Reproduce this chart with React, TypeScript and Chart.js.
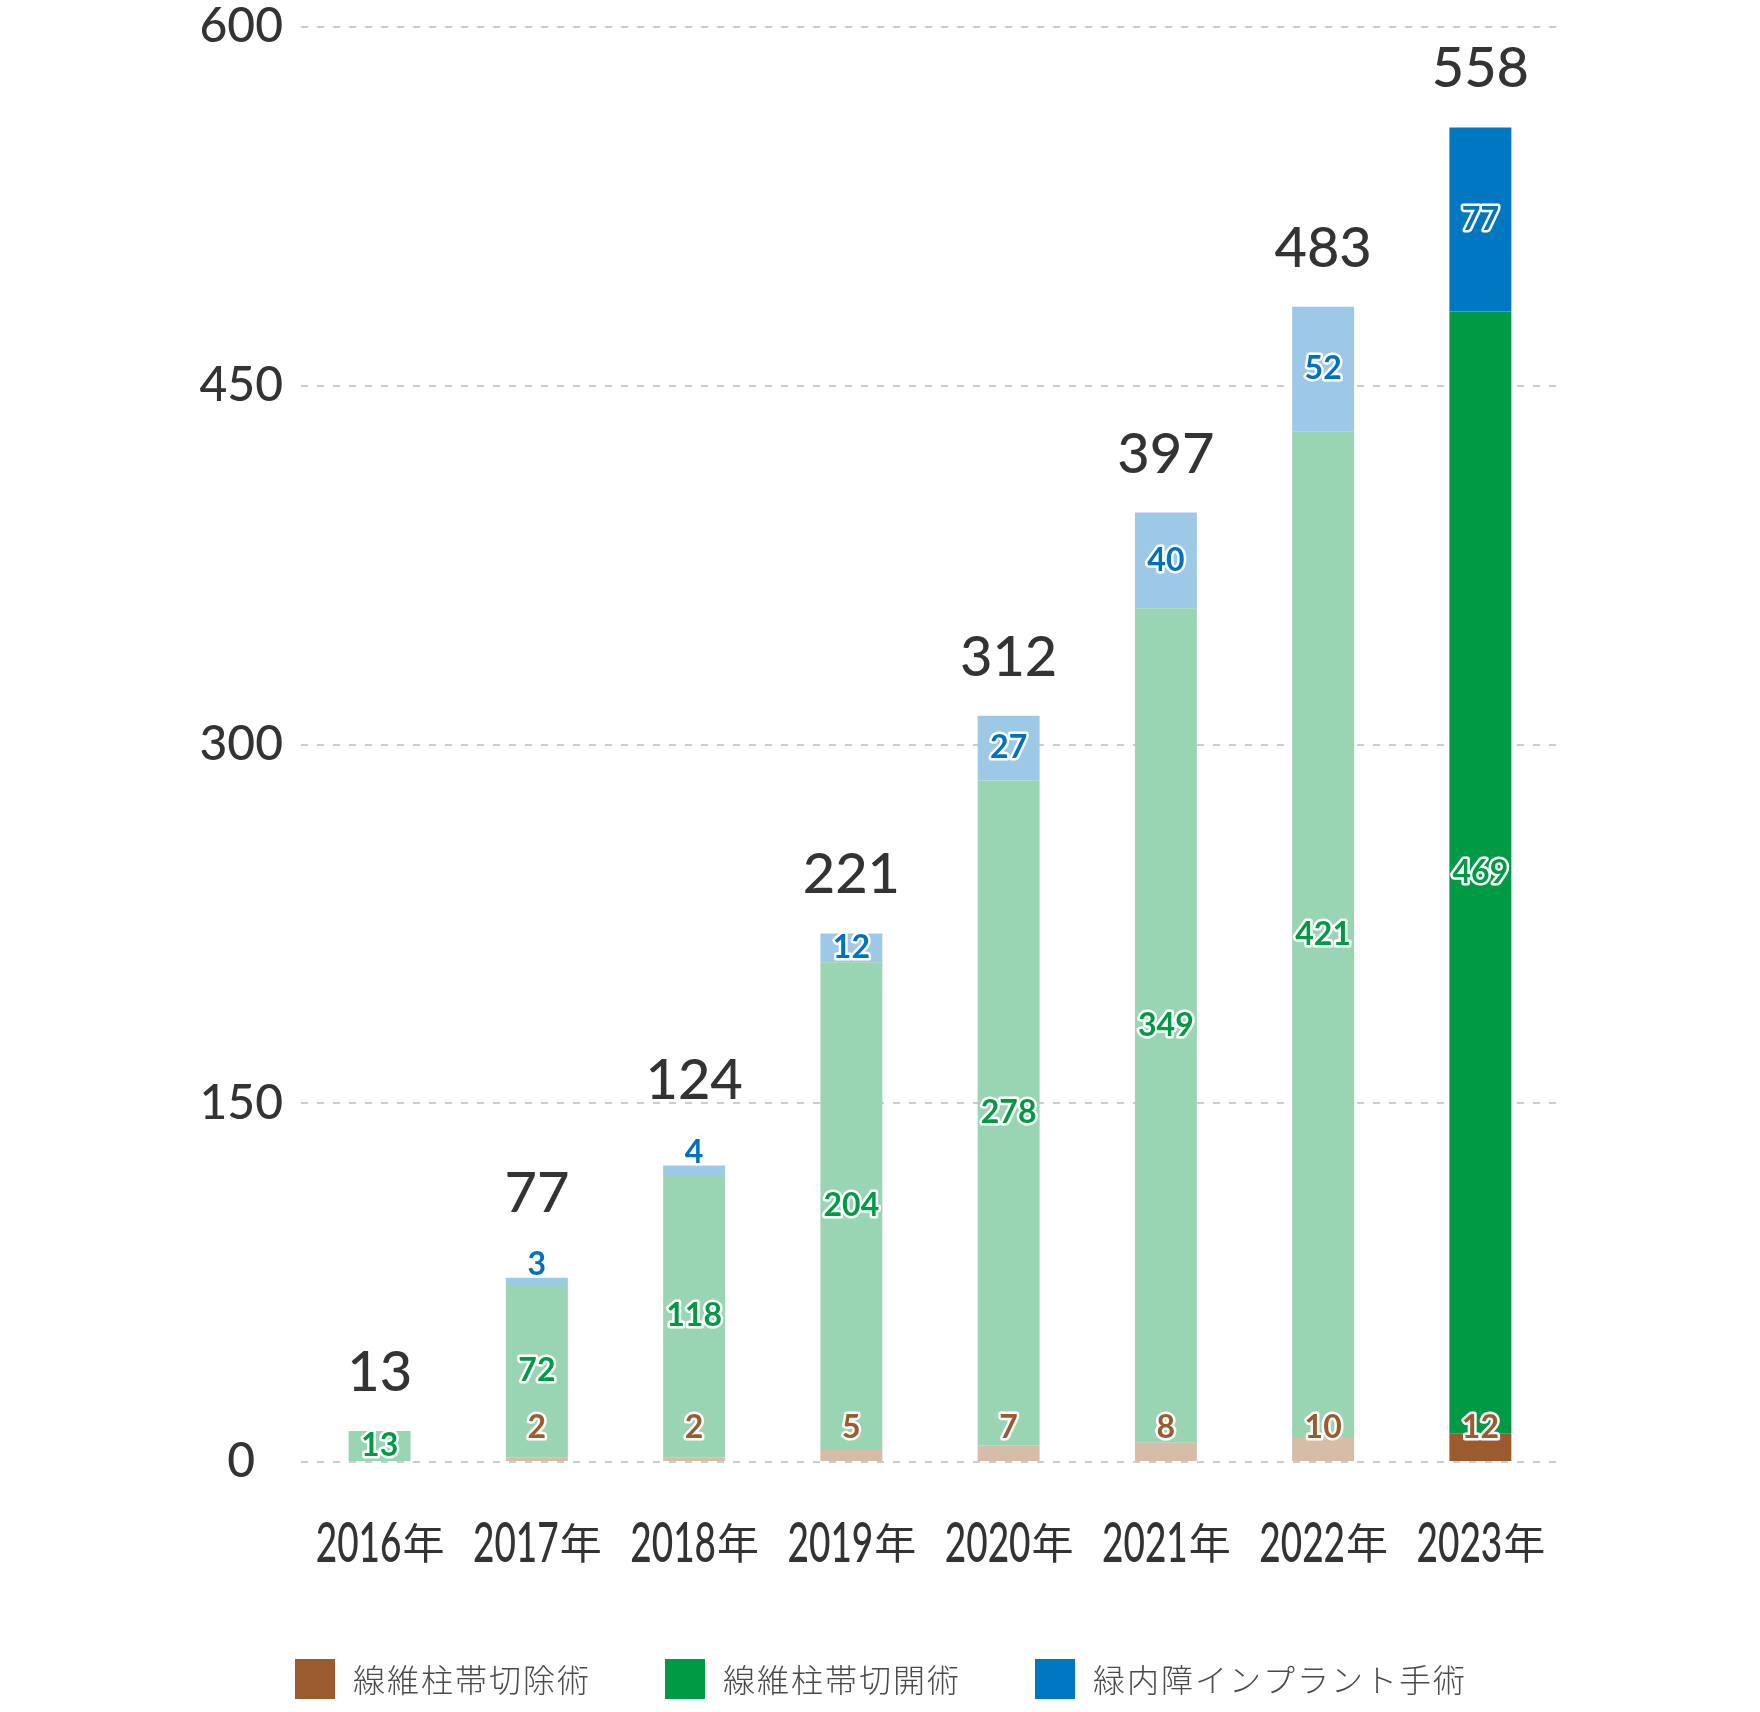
import React, { useEffect, useRef } from "react";
import { Chart, registerables } from "chart.js";

Chart.register(...registerables);

// ---- data ----
const years = ["2016年", "2017年", "2018年", "2019年", "2020年", "2021年", "2022年", "2023年"];
const excisionValues = [0, 2, 2, 5, 7, 8, 10, 12]; // 線維柱帯切除術
const incisionValues = [13, 72, 118, 204, 278, 349, 421, 469]; // 線維柱帯切開術
const implantValues = [0, 3, 4, 12, 27, 40, 52, 77]; // 緑内障インプラント手術
const totals = [13, 77, 124, 221, 312, 397, 483, 558];
const yTickValues = [0, 150, 300, 450, 600];
const seriesNames = ["線維柱帯切除術", "線維柱帯切開術", "緑内障インプラント手術"];

// ---- styles ----
const DARK = ["#9b5b2f", "#009a44", "#0077c1"];
const LIGHT = ["#d7bca8", "#99d5b2", "#9dc9e7"];
const LABEL_COLORS = ["#9b5b2f", "#009a44", "#0072bc"];
const TEXT = "#333333";
const NUM_FONT = "Lato, 'Noto Sans', sans-serif";
const CJK_FONT = "'Noto Sans CJK JP', 'Noto Sans', sans-serif";

const colorFor = (series: number) => (ctx: any) =>
  ctx.dataIndex === years.length - 1 ? DARK[series] : LIGHT[series];

const labelsPlugin = {
  id: "customLabels",
  afterDatasetsDraw(chart: any) {
    const ctx = chart.ctx as CanvasRenderingContext2D;
    const ys = chart.scales.y;
    const zeroY = ys.getPixelForValue(0);
    const blueAnchor: number[] = [];
    ctx.save();
    ctx.font = `700 32px ${NUM_FONT}`;
    ctx.textAlign = "center";
    ctx.textBaseline = "middle";
    ctx.lineJoin = "round";
    chart.data.datasets.forEach((ds: any, di: number) => {
      const meta = chart.getDatasetMeta(di);
      meta.data.forEach((bar: any, i: number) => {
        const v = ds.data[i];
        const p = bar.getProps(["x", "y", "base"], true);
        if (di === 2) blueAnchor[i] = p.y;
        if (!v) return;
        let cy: number;
        if (di === 0) cy = zeroY - 34;
        else if (p.base - p.y >= 26) cy = (p.y + p.base) / 2;
        else {
          cy = p.y - 13;
          if (di === 2) blueAnchor[i] = p.y - 26;
        }
        ctx.lineWidth = 5;
        ctx.strokeStyle = "#ffffff";
        ctx.strokeText(String(v), p.x, cy);
        ctx.fillStyle = LABEL_COLORS[di];
        ctx.fillText(String(v), p.x, cy);
      });
    });
    // totals
    ctx.font = `500 56px ${NUM_FONT}`;
    ctx.fillStyle = TEXT;
    ctx.textBaseline = "alphabetic";
    const xs = chart.scales.x;
    totals.forEach((t, i) => {
      const top = Math.min(ys.getPixelForValue(t), blueAnchor[i] ?? Infinity);
      ctx.fillText(String(t), xs.getPixelForValue(i), top - 40);
    });
    ctx.restore();
  },
  afterDraw(chart: any) {
    const ctx = chart.ctx as CanvasRenderingContext2D;
    const xs = chart.scales.x;
    const ys = chart.scales.y;
    const zeroY = ys.getPixelForValue(0);
    const SX = 0.66;
    ctx.save();
    ctx.fillStyle = TEXT;
    ctx.textBaseline = "alphabetic";
    ctx.textAlign = "left";
    years.forEach((lab, i) => {
      const cx = xs.getPixelForValue(i);
      const num = lab.replace(/[^0-9]/g, "");
      const suf = lab.replace(/[0-9]/g, "");
      ctx.font = `500 56px ${NUM_FONT}`;
      const nw = ctx.measureText(num).width * SX;
      ctx.font = `400 42px ${CJK_FONT}`;
      const sw = ctx.measureText(suf).width;
      const left = cx - (nw + sw) / 2;
      const base = zeroY + 100;
      ctx.save();
      ctx.translate(left, base);
      ctx.scale(SX, 1);
      ctx.font = `500 56px ${NUM_FONT}`;
      ctx.fillText(num, 0, 0);
      ctx.restore();
      ctx.font = `400 42px ${CJK_FONT}`;
      ctx.fillText(suf, left + nw + 1, base - 3);
    });

    // legend
    ctx.font = `300 32px ${CJK_FONT}`;
    (ctx as any).letterSpacing = "2px";
    const box = 40;
    const gapBoxText = 18;
    const gapItems = 74;
    const widths = seriesNames.map((n) => ctx.measureText(n).width);
    const totalW =
      widths.reduce((a, w) => a + box + gapBoxText + w, 0) + gapItems * (seriesNames.length - 1);
    let x = chart.width / 2 - totalW / 2 + 1;
    const cy = 1679;
    ctx.textBaseline = "middle";
    seriesNames.forEach((n, i) => {
      ctx.fillStyle = DARK[i];
      ctx.fillRect(x, cy - box / 2, box, box);
      ctx.fillStyle = "#4a4a4a";
      ctx.fillText(n, x + box + gapBoxText, cy + 1);
      x += box + gapBoxText + widths[i] + gapItems;
    });
    ctx.restore();
  },
};

export default function App() {
  const ref = useRef<HTMLCanvasElement | null>(null);
  useEffect(() => {
    document.body.style.margin = "0";
    if (!ref.current) return;
    const chart = new Chart(ref.current, {
      type: "bar",
      data: {
        labels: years,
        datasets: [
          { label: seriesNames[0], data: excisionValues, backgroundColor: colorFor(0) },
          { label: seriesNames[1], data: incisionValues, backgroundColor: colorFor(1) },
          { label: seriesNames[2], data: implantValues, backgroundColor: colorFor(2) },
        ],
      },
      options: {
        responsive: false,
        animation: false,
        devicePixelRatio: 1,
        datasets: { bar: { barPercentage: 0.394, categoryPercentage: 1, borderWidth: 0 } },
        layout: { padding: { top: 27, right: 201, left: 0, bottom: 100 } },
        plugins: { legend: { display: false }, tooltip: { enabled: false } },
        scales: {
          x: {
            stacked: true,
            grid: { display: false },
            border: { display: false },
            ticks: { display: false },
            afterFit: (s: any) => {
              s.height = 150;
            },
          },
          y: {
            stacked: true,
            min: 0,
            max: 600,
            afterBuildTicks: (s: any) => {
              s.ticks = yTickValues.map((v) => ({ value: v }));
            },
            afterFit: (s: any) => {
              s.width = 301;
              s.paddingTop = 20;
              s.paddingBottom = 20;
            },
            grid: { color: "#cccccc", lineWidth: 2, drawTicks: false },
            border: { display: false, dash: [7, 9] },
            ticks: {
              color: TEXT,
              padding: 18,
              crossAlign: "center",
              font: { family: NUM_FONT, size: 48, weight: "500", lineHeight: 1 },
            },
          },
        },
      },
      plugins: [labelsPlugin],
    } as any);
    return () => chart.destroy();
  }, []);
  return (
    <div style={{ width: 1760, height: 1712, background: "#ffffff" }}>
      <canvas ref={ref} width={1760} height={1712} style={{ display: "block" }} />
    </div>
  );
}
